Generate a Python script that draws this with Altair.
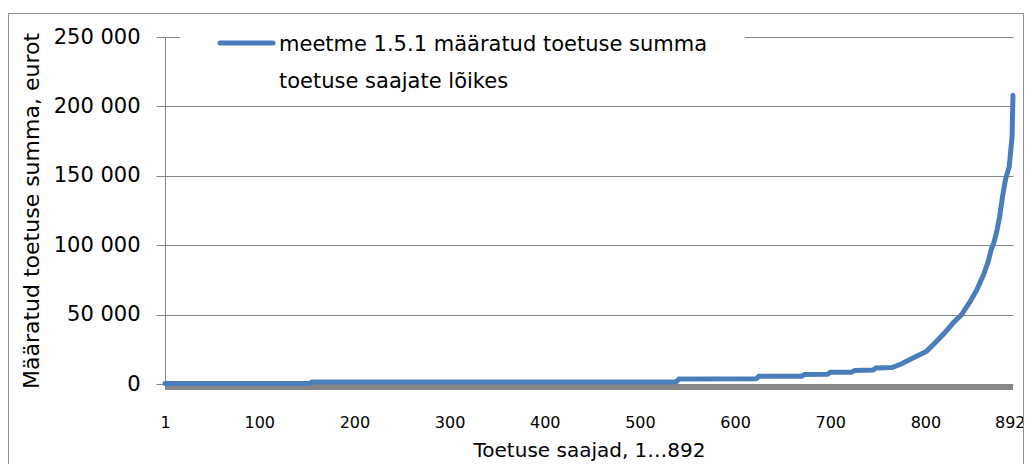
import altair as alt
import pandas as pd

# (rank, amount) vertices of the sorted curve
rank = [1, 153, 155, 538, 541, 622, 625, 670, 673, 697, 700, 722, 726, 745, 748,
        765, 775, 789, 801, 810, 820, 829, 838, 847, 854, 861, 866, 869, 872, 875,
        878, 881, 884, 888, 890, 891, 892]
amount = [400, 400, 1400, 1500, 3600, 3700, 5500, 5600, 6900, 7000, 8400, 8500, 9800,
          10000, 11500, 11800, 14600, 19400, 23500, 29500, 36700, 43900, 50000, 59500,
          67900, 78700, 88300, 96700, 102000, 110000, 120700, 135000, 147000, 156600,
          171000, 178000, 208000]
legend_lines = ["meetme 1.5.1 määratud  toetuse summa", "toetuse saajate  lõikes"]

x_ticks = [1, 100, 200, 300, 400, 500, 600, 700, 800, 892]
y_ticks = [0, 50000, 100000, 150000, 200000, 250000]

df = pd.DataFrame({"rank": rank, "amount": amount})

FONT = "DejaVu Sans"
GRAY = "#868686"
BLUE = "#4a7ebb"

x_scale = alt.Scale(domain=[1, 892], nice=False, zero=False)
y_scale = alt.Scale(domain=[0, 250000], nice=False)

x_axis = alt.Axis(values=x_ticks, grid=False, domain=False, ticks=False,
                  labelFlush=False, labelFontSize=16, labelPadding=30,
                  labelColor="black",
                  labelAlign={"condition": {"test": "datum.value == 892", "value": "right"},
                              "value": "center"},
                  labelOffset={"condition": {"test": "datum.value == 892", "value": 12},
                               "value": 0},
                  title="Toetuse saajad,  1…892",
                  titleFontSize=20, titleFontWeight="normal", titleColor="black",
                  titleX=424, titleY=72, titleBaseline="alphabetic", titleAlign="center")
y_axis = alt.Axis(values=y_ticks, grid=True, gridColor=GRAY, gridWidth=1,
                  domainColor=GRAY, tickColor=GRAY, tickSize=9,
                  labelFontSize=21, labelPadding=16, labelColor="black",
                  labelExpr="replace(format(datum.value, ','), ',', ' ')",
                  title="Määratud toetuse summa, eurot", titleFontSize=22,
                  titleFontWeight="normal", titleColor="black",
                  titleAngle=270, titleX=-134, titleY=173.5,
                  titleAlign="center", titleBaseline="middle")

base = alt.Chart(df)

band = base.mark_rule(color="#878787", strokeWidth=6, yOffset=3).encode(
    x=alt.datum(1, scale=x_scale, axis=x_axis),
    x2=alt.datum(892),
    y=alt.datum(0, scale=y_scale, axis=y_axis),
).transform_filter("datum.rank == 1")

line = base.mark_line(strokeWidth=5, strokeCap="round", color=BLUE).encode(
    x=alt.X("rank:Q", scale=x_scale, axis=x_axis),
    y=alt.Y("amount:Q", scale=y_scale, axis=y_axis),
    order="rank:Q",
)

one = alt.Data(values=[{"a": 1}])

# legend box (hand-made, so that the label can wrap on two lines)
legend_bg = alt.Chart(one).mark_rect(fill="white", stroke=None).encode(
    x=alt.value(15), x2=alt.value(580), y=alt.value(-7), y2=alt.value(62),
)
legend_sym = alt.Chart(one).mark_rule(color=BLUE, strokeWidth=5, strokeCap="round").encode(
    x=alt.value(55), x2=alt.value(108), y=alt.value(6),
)
legend_txt = alt.Chart(one).mark_text(
    text=legend_lines, align="left", baseline="middle", lineHeight=37,
    fontSize=21, font=FONT, color="black",
).encode(x=alt.value(114), y=alt.value(8))

border = alt.Chart(one).mark_rect(
    fill="white", fillOpacity=0, stroke="#8c8c8c", strokeWidth=1
).encode(
    x=alt.value(-156.5), x2=alt.value(858.5),
    y=alt.value(-23.5), y2=alt.value(500),
)

chart = alt.layer(border, band, line, legend_bg, legend_sym, legend_txt).properties(
    width=848, height=347,
    autosize=alt.AutoSizeParams(type="none"),
    padding={"left": 157, "top": 29, "right": 11, "bottom": 80},
).configure(font=FONT).configure_view(stroke=None)

chart.save("out.html", embed_options={"renderer": "svg", "actions": False})
